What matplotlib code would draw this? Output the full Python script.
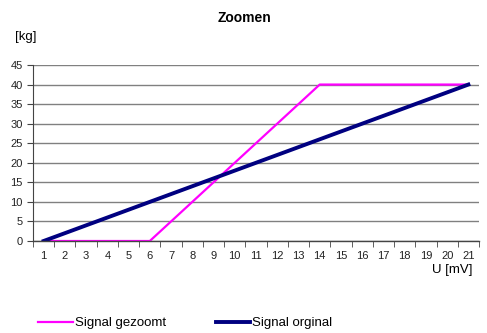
import numpy as np
import matplotlib.pyplot as plt

plt.rcParams['font.family'] = ['Liberation Sans', 'DejaVu Sans']

# data
u_mv = list(range(1, 22))
signal_gezoomt = [0, 0, 0, 0, 0, 0, 5, 10, 15, 20, 25, 30, 35, 40,
                  40, 40, 40, 40, 40, 40, 40]
signal_orginal = [0, 2, 4, 6, 8, 10, 12, 14, 16, 18, 20, 22, 24, 26,
                  28, 30, 32, 34, 36, 38, 40]
y_ticks = list(range(0, 50, 5))

fig = plt.figure(figsize=(4.87, 3.33), dpi=100)
ax = fig.add_axes([33 / 487, (333 - 241) / 333, (479 - 33) / 487, (241 - 65) / 333])

l1, = ax.plot(u_mv, signal_gezoomt, color='#FF00FF', lw=1.6, label='Signal gezoomt')
l2, = ax.plot(u_mv, signal_orginal, color='#000080', lw=2.8, label='Signal orginal')

ax.set_xlim(0.5, 21.5)
ax.set_ylim(0, 45)
ax.set_yticks(y_ticks)
ax.set_xticks(u_mv)
ax.set_xticklabels([str(v) for v in u_mv])
ax.set_xticks(np.arange(0.5, 22, 1), minor=True)
ax.tick_params(axis='x', which='major', length=0, pad=7, labelsize=8, colors='#222222')
ax.tick_params(axis='x', which='minor', length=4, direction='out', color='#444444')
ax.tick_params(axis='y', length=4, direction='out', labelsize=8, color='#444444', labelcolor='#222222')
ax.grid(axis='y', color='#808080', lw=1.0)
ax.set_axisbelow(True)
for s in ['top', 'right']:
    ax.spines[s].set_visible(False)
ax.spines['left'].set_color('#444444')
ax.spines['bottom'].set_color('#444444')
ax.spines['bottom'].set_linewidth(1.0)

fig.text(245 / 487, 1 - 18 / 333, 'Zoomen', ha='center', va='center',
         fontsize=10, fontweight='bold')
fig.text(15 / 487, 1 - 37 / 333, '[kg]', ha='left', va='center', fontsize=9.5)
fig.text(432 / 487, 1 - 270 / 333, 'U [mV]', ha='left', va='center', fontsize=9.5)

fig.legend(handles=[l1, l2], loc='center left', bbox_to_anchor=(33 / 487, 1 - 323 / 333),
           ncol=2, frameon=False, fontsize=9.5, handlelength=2.6, handletextpad=0.15,
           columnspacing=3.8, borderaxespad=0)

fig.savefig('out.png', dpi=100)
